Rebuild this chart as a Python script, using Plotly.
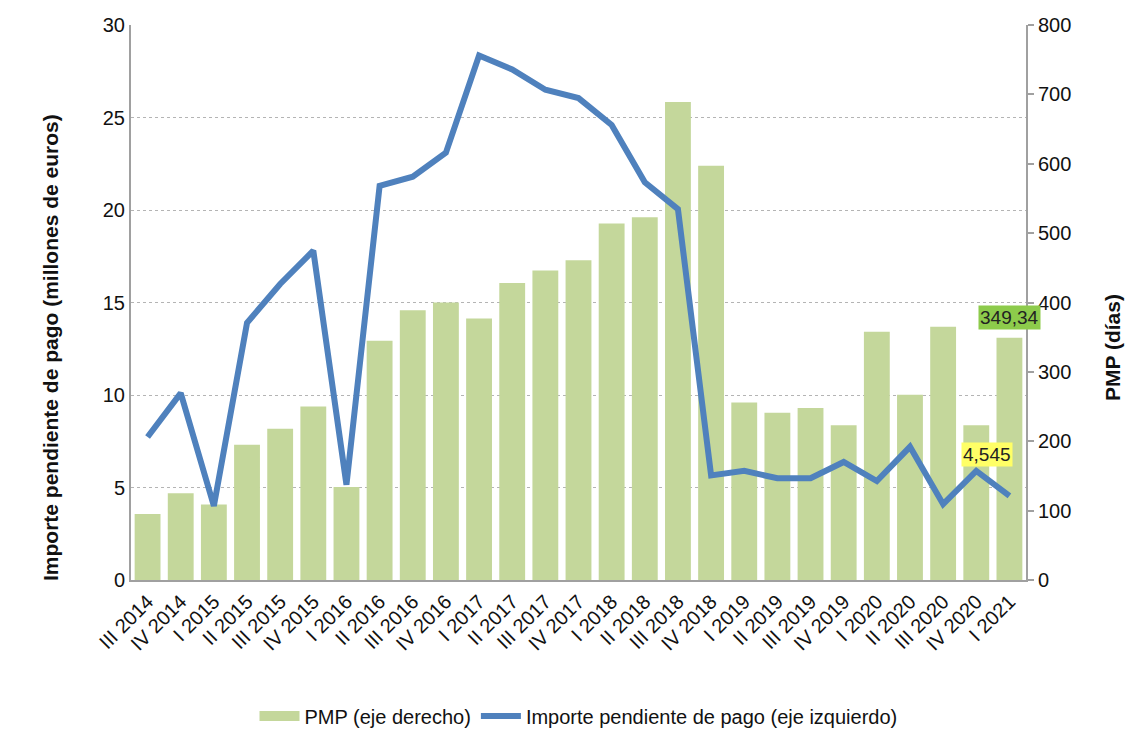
import plotly.graph_objects as go

categories = ["III 2014", "IV 2014", "I 2015", "II 2015", "III 2015", "IV 2015",
              "I 2016", "II 2016", "III 2016", "IV 2016", "I 2017", "II 2017",
              "III 2017", "IV 2017", "I 2018", "II 2018", "III 2018", "IV 2018",
              "I 2019", "II 2019", "III 2019", "IV 2019", "I 2020", "II 2020",
              "III 2020", "IV 2020", "I 2021"]

pmp_dias = [95, 125, 109, 195, 218, 250, 134, 345, 389, 400, 377, 428,
            446, 461, 514, 523, 689, 597, 256, 241, 248, 223, 358, 267,
            365, 223, 349.34]

importe_millones = [7.73, 10.1, 4.0, 13.9, 16.0, 17.8, 5.15, 21.3, 21.8, 23.1,
                    28.35, 27.6, 26.5, 26.05, 24.6, 21.5, 20.05, 5.65, 5.9,
                    5.5, 5.5, 6.38, 5.35, 7.2, 4.1, 5.9, 4.545]

left_ticks = [0, 5, 10, 15, 20, 25, 30]
right_ticks = [0, 100, 200, 300, 400, 500, 600, 700, 800]

FONT = "Liberation Sans, Arial, sans-serif"
GREEN = "#C4D79B"
BLUE = "#4F81BD"

W, H = 1134, 731
L, R, T, B = 123, 116, 17, 159
OFF = 8  # page body margin
pw, ph = W - L - R, H - T - B


def px_to_paper(sx, sy):
    return (sx - OFF - L) / pw, (H - (sy - OFF) - B) / ph


fig = go.Figure()
# bars on the base (right-side) axis, line on the overlaying (left-side) axis so it draws on top
fig.add_trace(go.Bar(
    x=categories, y=pmp_dias, name="PMP (eje derecho)", yaxis="y",
    marker=dict(color=GREEN, line=dict(width=0)), showlegend=False,
))
# legend entry with a wide rectangular swatch for the bars
fig.add_trace(go.Scatter(
    x=[None], y=[None], name="PMP (eje derecho)", mode="lines",
    line=dict(color=GREEN, width=14), yaxis="y", hoverinfo="skip",
))
fig.add_trace(go.Scatter(
    x=categories, y=importe_millones, name="Importe pendiente de pago (eje izquierdo)",
    mode="lines", line=dict(color=BLUE, width=6), yaxis="y2",
))

fig.add_annotation(x=categories[-1], y=pmp_dias[-1], xref="x", yref="y",
                   text="349,34", showarrow=False, xshift=0, yshift=20,
                   bgcolor="#8DCB4B", font=dict(family=FONT, size=19, color="#222"),
                   borderpad=1)
fig.add_annotation(x=categories[-1], y=importe_millones[-1], xref="x", yref="y2",
                   text="4,545", showarrow=False, xshift=-22, yshift=41,
                   bgcolor="#FFFF66", font=dict(family=FONT, size=19, color="#222"),
                   borderpad=1)

lx, ly = px_to_paper(50, 348)
rx, ry = px_to_paper(1112, 348)
fig.add_annotation(x=lx, y=ly, xref="paper", yref="paper",
                   text="<b>Importe pendiente de pago (millones de euros)</b>",
                   xanchor="center", yanchor="middle",
                   showarrow=False, textangle=-90, font=dict(family=FONT, size=21, color="#111"))
fig.add_annotation(x=rx, y=ry, xref="paper", yref="paper", text="<b>PMP (días)</b>",
                   xanchor="center", yanchor="middle",
                   showarrow=False, textangle=-90, font=dict(family=FONT, size=21, color="#111"))

fig.update_layout(
    width=W, height=H,
    margin=dict(l=L, r=R, t=T, b=B, autoexpand=False),
    paper_bgcolor="white", plot_bgcolor="white",
    font=dict(family=FONT, size=17, color="#111"),
    bargap=0.22,
    showlegend=True,
    legend=dict(orientation="h", x=0.5, xanchor="center",
                yref="container", y=(H - (716 - OFF)) / H, yanchor="middle",
                font=dict(family=FONT, size=20, color="#111"), traceorder="normal",
                itemwidth=40),
    xaxis=dict(
        type="category", range=[-0.5, len(categories) - 0.5], tickangle=-45,
        tickfont=dict(family=FONT, size=20, color="#111"), automargin=False,
        showline=True, linecolor="#a0a0a0", linewidth=2, ticks="", showgrid=False,
    ),
    yaxis=dict(
        range=[0, 800], tickvals=right_ticks, side="right", automargin=False,
        tickfont=dict(family=FONT, size=20, color="#111"),
        showline=True, linecolor="#a0a0a0", linewidth=2, ticks="outside",
        ticklen=6, tickcolor="#a0a0a0", tickwidth=2, showgrid=False, zeroline=False,
    ),
    yaxis2=dict(
        range=[0, 30], tickvals=left_ticks, overlaying="y", side="left", automargin=False,
        tickfont=dict(family=FONT, size=20, color="#111"),
        showline=True, linecolor="#a0a0a0", linewidth=2, ticks="",
        showgrid=True, gridcolor="#b4b4b4", griddash="dot", gridwidth=1,
        zeroline=False,
    ),
)

fig.write_html("out.html")
